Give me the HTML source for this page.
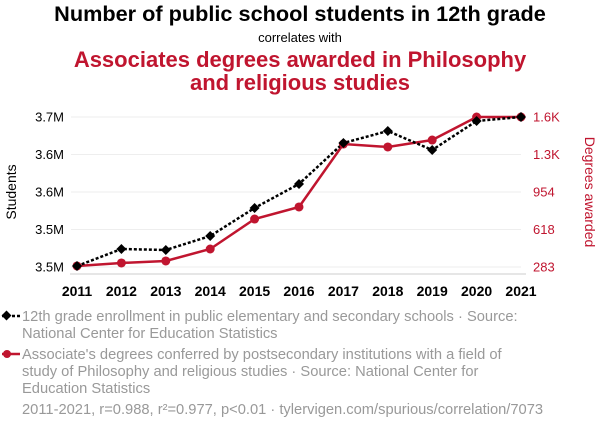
<!DOCTYPE html>
<html><head><meta charset="utf-8"><style>
body{margin:0;background:#fff;font-family:"Liberation Sans",sans-serif}
svg{display:block}
</style></head><body>
<svg id="c" width="600" height="430" font-family="Liberation Sans, sans-serif">
<text x="300" y="21" text-anchor="middle" font-size="21.7" font-weight="bold" fill="#000">Number of public school students in 12th grade</text>
<text x="300" y="42" text-anchor="middle" font-size="13" fill="#000">correlates with</text>
<text x="300" y="67" text-anchor="middle" font-size="22" font-weight="bold" fill="#c0152f">Associates degrees awarded in Philosophy</text>
<text x="300" y="90" text-anchor="middle" font-size="22" font-weight="bold" fill="#c0152f">and religious studies</text>
<text transform="translate(16,192) rotate(-90)" text-anchor="middle" font-size="14" fill="#000">Students</text>
<text transform="translate(585,192) rotate(90)" text-anchor="middle" font-size="14" fill="#c0152f">Degrees awarded</text>
<g id="grid"></g><g id="axes"></g><g id="marks"></g>
<g>
<line x1="2" y1="316" x2="20" y2="316" stroke="#000" stroke-width="2.5" stroke-dasharray="3,2"/>
<rect x="3" y="312" width="7" height="7" transform="rotate(45 6.5 315.5)" fill="#000"/>
<text x="22" y="321" font-size="14.7" fill="#999"><tspan x="22">12th grade enrollment in public elementary and secondary schools · Source:</tspan><tspan x="22" dy="17">National Center for Education Statistics</tspan></text>
<line x1="2" y1="354" x2="20" y2="354" stroke="#c0152f" stroke-width="2.5"/>
<circle cx="7" cy="354" r="4" fill="#c0152f"/>
<text x="22" y="359" font-size="14.7" fill="#999"><tspan x="22">Associate's degrees conferred by postsecondary institutions with a field of</tspan><tspan x="22" dy="17">study of Philosophy and religious studies · Source: National Center for</tspan><tspan x="22" dy="17">Education Statistics</tspan></text>
</g>
<text x="22" y="414" font-size="14.7" fill="#999">2011-2021, r=0.988, r²=0.977, p&lt;0.01 · tylervigen.com/spurious/correlation/7073</text>
</svg>
<script>
const years=[2011,2012,2013,2014,2015,2016,2017,2018,2019,2020,2021];
const students=[3.4813,3.504,3.5027,3.5213,3.5587,3.5907,3.6453,3.6613,3.636,3.6747,3.68];
const degrees=[292,319,337,444,712,820,1383,1357,1419,1625,1625];
const leftTicks=[3.48,3.53,3.58,3.63,3.68];
const leftTickLabels=["3.5M","3.5M","3.6M","3.6M","3.7M"];
const rightTicks=[283,618,954,1290,1625];
const rightTickLabels=["283","618","954","1.3K","1.6K"];
const NS="http://www.w3.org/2000/svg";
const x=i=>77+(i-2011)*44.4;
const yl=v=>267-(v-3.48)/0.2*150;
const yr=v=>267-(v-283)/(1625-283)*150;
function mk(t,a,p){const e=document.createElementNS(NS,t);for(const k in a)e.setAttribute(k,a[k]);document.getElementById(p).appendChild(e);return e;}
leftTicks.forEach((v,i)=>{
 const g=mk('line',{x1:71,x2:521,y1:yl(v),y2:yl(v),stroke:'#eee','stroke-width':1},'grid');
 
 
 const t=mk('text',{x:64,y:yl(v)+4.5,'text-anchor':'end','font-size':13,fill:'#000'},'axes');t.textContent=leftTickLabels[i];
 
 
});
rightTicks.forEach((v,i)=>{
 const t=mk('text',{x:533,y:yr(v)+4.5,'font-size':13,fill:'#c0152f'},'axes');t.textContent=rightTickLabels[i];
 
 
});
const ax=mk('line',{x1:70,x2:526,y1:274,y2:274,stroke:'#ccc'},'axes');


years.forEach(yv=>{
 const t=mk('text',{x:x(yv),y:296,'text-anchor':'middle','font-size':14,'font-weight':'bold',fill:'#000'},'axes');t.textContent=yv;
 
 
});
const rl=mk('polyline',{points:years.map((yv,i)=>x(yv)+','+yr(degrees[i])).join(' '),fill:'none',stroke:'#c0152f','stroke-width':2.5},'marks');


const bl=mk('polyline',{points:years.map((yv,i)=>x(yv)+','+yl(students[i])).join(' '),fill:'none',stroke:'#000','stroke-width':2.5,'stroke-dasharray':'3,2'},'marks');


years.forEach((yv,i)=>{
 const c=mk('circle',{cx:x(yv),cy:yr(degrees[i]),r:4.5,fill:'#c0152f'},'marks');
 
 
 const cx=x(yv),cy=yl(students[i]);
 const d=mk('polygon',{points:`${cx},${cy-5} ${cx+5},${cy} ${cx},${cy+5} ${cx-5},${cy}`,fill:'#000'},'marks');
 
 
});
</script>
</body></html>
